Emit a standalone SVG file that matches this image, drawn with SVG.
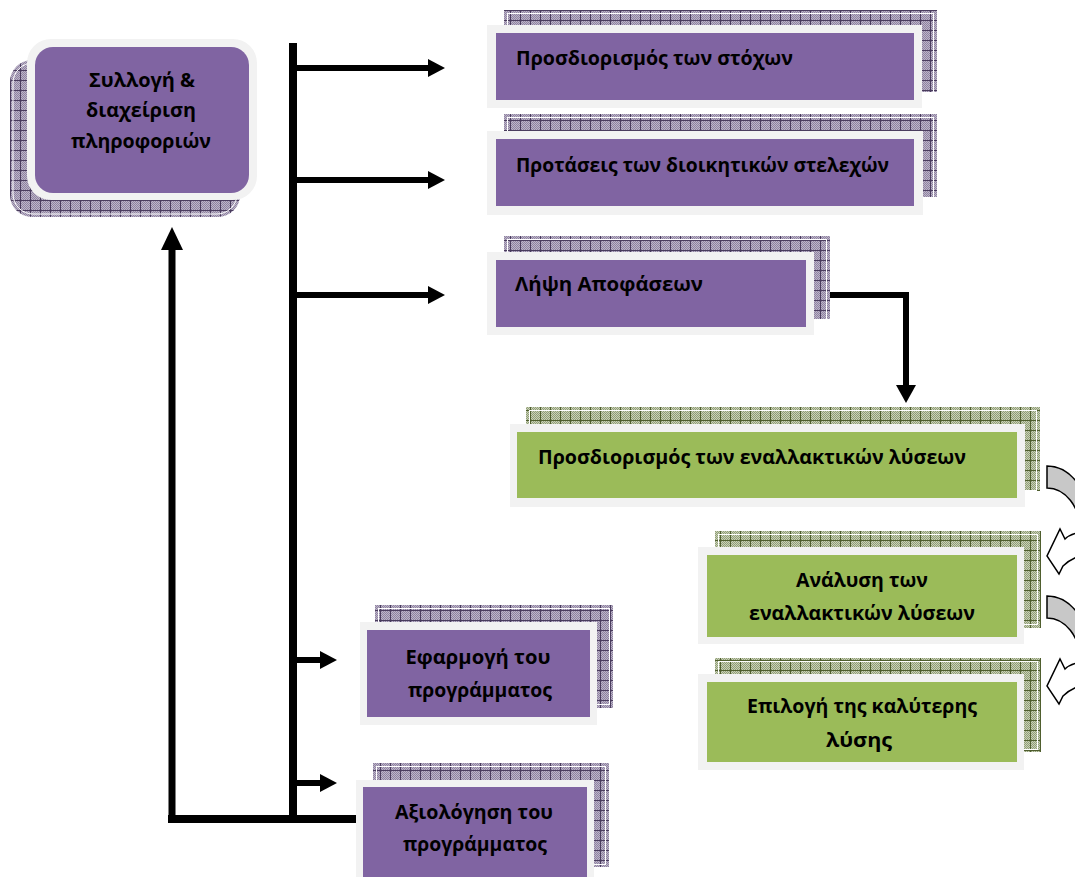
<svg xmlns="http://www.w3.org/2000/svg" width="1075" height="877" viewBox="0 0 1075 877">
  <defs>
    <!-- fine checker texture used inside the hatched shadows -->
    <pattern id="dotsP" width="2" height="2" patternUnits="userSpaceOnUse">
      <rect width="2" height="2" fill="#bdb4c9"/>
      <rect width="1" height="1" fill="#8e83a0"/>
      <rect x="1" y="1" width="1" height="1" fill="#8e83a0"/>
    </pattern>
    <pattern id="dotsG" width="2" height="2" patternUnits="userSpaceOnUse">
      <rect width="2" height="2" fill="#c9d2b6"/>
      <rect width="1" height="1" fill="#909c78"/>
      <rect x="1" y="1" width="1" height="1" fill="#909c78"/>
    </pattern>
    <!-- grid hatch: purple and green variants -->
    <pattern id="hatchP" width="10" height="10" patternUnits="userSpaceOnUse">
      <rect width="10" height="10" fill="url(#dotsP)"/>
      <path d="M0 0.5H10M0.5 0V10" stroke="#4a3c5e" stroke-width="1"/>
    </pattern>
    <pattern id="hatchG" width="10" height="10" patternUnits="userSpaceOnUse">
      <rect width="10" height="10" fill="url(#dotsG)"/>
      <path d="M0 0.5H10M0.5 0V10" stroke="#4f5e2e" stroke-width="1"/>
    </pattern>
    <style>
      .shP { fill: url(#hatchP); }
      .shG { fill: url(#hatchG); }
      .inset { fill: none; stroke: #ffffff; stroke-width: 1; }
      .frame { fill: #f2f2f2; }
      .purple { fill: #8064a2; }
      .green { fill: #9bbb59; }
      .t { font-family: "Open Sans", "Noto Sans", "DejaVu Sans", sans-serif; font-weight: 700; font-size: 20px; fill: #000000; }
      .c { text-anchor: middle; }
      .ln { stroke: #000000; fill: none; stroke-linecap: butt; }
      .hd { fill: #000000; }
      .band { fill: #c8c8c8; stroke: #000000; stroke-width: 1.5; }
      .head { fill: #ffffff; stroke: #000000; stroke-width: 1.5; stroke-linejoin: miter; }
    </style>
  </defs>

  <!-- connectors -->
  <g id="connectors">
    <!-- main vertical bus -->
    <line class="ln" x1="293" y1="43" x2="293" y2="823" stroke-width="8"/>
    <!-- branches to the upper boxes -->
    <line class="ln" x1="297" y1="68" x2="430" y2="68" stroke-width="6"/>
    <polygon class="hd" points="428,59 445,68 428,77"/>
    <line class="ln" x1="297" y1="180" x2="430" y2="180" stroke-width="6"/>
    <polygon class="hd" points="428,171 445,180 428,189"/>
    <line class="ln" x1="297" y1="295" x2="430" y2="295" stroke-width="6"/>
    <polygon class="hd" points="428,286 445,295 428,304"/>
    <!-- short branches to the lower boxes -->
    <line class="ln" x1="297" y1="660" x2="322" y2="660" stroke-width="6"/>
    <polygon class="hd" points="320,651 337,660 320,669"/>
    <line class="ln" x1="297" y1="783" x2="322" y2="783" stroke-width="6"/>
    <polygon class="hd" points="320,774 337,783 320,792"/>
    <!-- feedback loop back to the top-left box -->
    <line class="ln" x1="168" y1="819" x2="360" y2="819" stroke-width="8"/>
    <line class="ln" x1="172" y1="823" x2="172" y2="248" stroke-width="7"/>
    <polygon class="hd" points="161,250 172,227 183,250"/>
    <!-- decision box down to the alternatives -->
    <polyline class="ln" points="830,295 906,295 906,386" stroke-width="6"/>
    <polygon class="hd" points="896,385 906,403 916,385"/>
    <!-- curved arrows between the green steps -->
    <g id="curve1">
      <path class="band" d="M1047,466 A45,64 0 0 1 1092,530 L1080,530 A33,42 0 0 0 1047,488 Z"/>
      <path class="head" d="M1077,533 Q1069,535 1065,539 L1060,529 L1047,556 L1059,574 L1063,566 Q1069,560 1077,557"/>
    </g>
    <g id="curve2" transform="translate(0,130)">
      <path class="band" d="M1047,466 A45,64 0 0 1 1092,530 L1080,530 A33,42 0 0 0 1047,488 Z"/>
      <path class="head" d="M1077,533 Q1069,535 1065,539 L1060,529 L1047,556 L1059,574 L1063,566 Q1069,560 1077,557"/>
    </g>
    <rect x="356" y="830" width="2" height="2" fill="#000000"/>
  </g>

  <!-- information gathering -->
  <g id="node-collect">
    <rect class="shP" x="10" y="60" width="230" height="157" rx="22"/>
    <rect class="inset" x="13" y="63" width="224" height="151" rx="20"/>
    <rect class="frame" x="27" y="39" width="230" height="161" rx="24"/>
    <rect class="purple" x="35" y="47" width="214" height="146" rx="18"/>
    <text class="t c" x="142" y="87" textLength="106" lengthAdjust="spacingAndGlyphs">Συλλογή &amp;</text>
    <text class="t c" x="141" y="117" textLength="110" lengthAdjust="spacingAndGlyphs">διαχείριση</text>
    <text class="t c" x="141" y="148" textLength="140" lengthAdjust="spacingAndGlyphs">πληροφοριών</text>
  </g>

  <g id="node-goals">
    <rect class="shP" x="504" y="10" width="433" height="82"/>
    <rect class="inset" x="507.5" y="13.5" width="426" height="80"/>
    <rect class="frame" x="487" y="25" width="435" height="83"/>
    <rect class="purple" x="496" y="33" width="418" height="67"/>
    <text class="t" x="516" y="65" textLength="277" lengthAdjust="spacingAndGlyphs">Προσδιορισμός των στόχων</text>
  </g>

  <g id="node-proposals">
    <rect class="shP" x="504" y="114" width="433" height="83"/>
    <rect class="inset" x="507.5" y="117.5" width="426" height="80"/>
    <rect class="frame" x="487" y="131" width="436" height="84"/>
    <rect class="purple" x="496" y="139" width="418" height="67"/>
    <text class="t" x="516" y="172" textLength="373" lengthAdjust="spacingAndGlyphs">Προτάσεις των διοικητικών στελεχών</text>
  </g>

  <g id="node-decision">
    <rect class="shP" x="504" y="236" width="326" height="83"/>
    <rect class="inset" x="507.5" y="239.5" width="319" height="80"/>
    <rect class="frame" x="487" y="252" width="327" height="83"/>
    <rect class="purple" x="496" y="260" width="310" height="67"/>
    <text class="t" x="515" y="291" textLength="188" lengthAdjust="spacingAndGlyphs">Λήψη Αποφάσεων</text>
  </g>

  <g id="node-alternatives">
    <rect class="shG" x="526" y="407" width="514" height="84"/>
    <rect class="inset" x="529.5" y="410.5" width="507" height="80"/>
    <rect class="frame" x="510" y="424" width="515" height="83"/>
    <rect class="green" x="517" y="432" width="500" height="66"/>
    <text class="t" x="538" y="464" textLength="428" lengthAdjust="spacingAndGlyphs">Προσδιορισμός των εναλλακτικών λύσεων</text>
  </g>

  <g id="node-analysis">
    <rect class="shG" x="715" y="531" width="326" height="97"/>
    <rect class="inset" x="718.5" y="534.5" width="319" height="90"/>
    <rect class="frame" x="698" y="547" width="326" height="97"/>
    <rect class="green" x="707" y="555" width="310" height="82"/>
    <text class="t c" x="862" y="587" textLength="132" lengthAdjust="spacingAndGlyphs">Ανάλυση των</text>
    <text class="t c" x="862" y="620" textLength="226" lengthAdjust="spacingAndGlyphs">εναλλακτικών λύσεων</text>
  </g>

  <g id="node-choice">
    <rect class="shG" x="715" y="658" width="326" height="94"/>
    <rect class="inset" x="718.5" y="661.5" width="319" height="88"/>
    <rect class="frame" x="698" y="674" width="326" height="96"/>
    <rect class="green" x="707" y="682" width="310" height="80"/>
    <text class="t c" x="862" y="713" textLength="230" lengthAdjust="spacingAndGlyphs">Επιλογή της καλύτερης</text>
    <text class="t c" x="859" y="747" textLength="66" lengthAdjust="spacingAndGlyphs">λύσης</text>
  </g>

  <g id="node-implementation">
    <rect class="shP" x="375" y="605" width="238" height="103"/>
    <rect class="inset" x="378.5" y="608.5" width="231" height="96"/>
    <rect class="frame" x="360" y="622" width="237" height="103"/>
    <rect class="purple" x="367" y="630" width="223" height="87"/>
    <text class="t c" x="478" y="664" textLength="145" lengthAdjust="spacingAndGlyphs">Εφαρμογή του</text>
    <text class="t c" x="480" y="697" textLength="144" lengthAdjust="spacingAndGlyphs">προγράμματος</text>
  </g>

  <g id="node-evaluation">
    <rect class="shP" x="373" y="763" width="236" height="104"/>
    <rect class="inset" x="376.5" y="766.5" width="229" height="98"/>
    <rect class="frame" x="356" y="780" width="238" height="100"/>
    <rect class="purple" x="363" y="787" width="224" height="95"/>
    <text class="t c" x="474" y="819" textLength="158" lengthAdjust="spacingAndGlyphs">Αξιολόγηση του</text>
    <text class="t c" x="475" y="851" textLength="144" lengthAdjust="spacingAndGlyphs">προγράμματος</text>
  </g>
</svg>
